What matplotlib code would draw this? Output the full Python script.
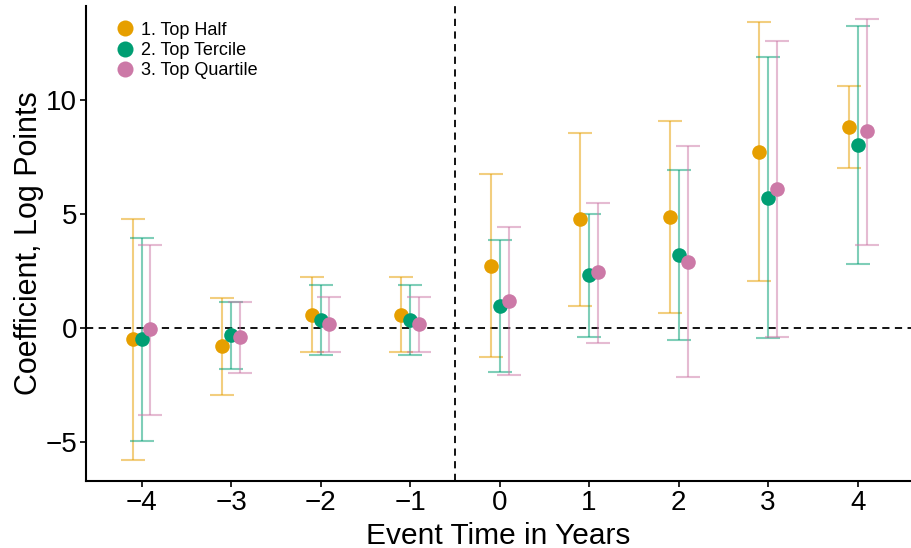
import matplotlib
matplotlib.use("Agg")
import matplotlib.pyplot as plt
import numpy as np

plt.rcParams['font.family'] = ['Liberation Sans', 'DejaVu Sans']

event_time = [-4, -3, -2, -1, 0, 1, 2, 3, 4]
series_names = ["1. Top Half", "2. Top Tercile", "3. Top Quartile"]
colors = ["#E69F00", "#009E73", "#CC79A7"]

half_coef = [-0.50, -0.79, 0.57, 0.57, 2.72, 4.75, 4.85, 7.72, 8.79]
half_lo = [-5.76, -2.92, -1.05, -1.05, -1.29, 0.96, 0.64, 2.07, 6.99]
half_hi = [4.77, 1.30, 2.21, 2.21, 6.74, 8.54, 9.05, 13.38, 10.61]

tercile_coef = [-0.48, -0.31, 0.35, 0.35, 0.94, 2.31, 3.19, 5.71, 8.01]
tercile_lo = [-4.94, -1.78, -1.20, -1.20, -1.93, -0.38, -0.51, -0.43, 2.82]
tercile_hi = [3.92, 1.15, 1.87, 1.87, 3.83, 5.00, 6.90, 11.86, 13.20]

quartile_coef = [-0.05, -0.41, 0.16, 0.16, 1.18, 2.43, 2.88, 6.08, 8.60]
quartile_lo = [-3.79, -1.96, -1.04, -1.04, -2.06, -0.64, -2.16, -0.38, 3.65]
quartile_hi = [3.63, 1.15, 1.36, 1.36, 4.43, 5.48, 7.95, 12.54, 13.52]

coefs = [half_coef, tercile_coef, quartile_coef]
los = [half_lo, tercile_lo, quartile_lo]
his = [half_hi, tercile_hi, quartile_hi]
offsets = [-0.1, 0.0, 0.1]

fig = plt.figure(figsize=(9.12, 5.48), dpi=100)
ax = fig.add_axes([0.0943, 0.1223, 0.905, 0.867])

ax.axhline(0, color='black', linestyle=(0, (4, 3)), linewidth=1.3, zorder=1)
ax.axvline(-0.5, color='black', linestyle=(0, (4, 3)), linewidth=1.3, zorder=1)

x = np.array(event_time, dtype=float)
for name, col, c, lo, hi, off in zip(series_names, colors, coefs, los, his, offsets):
    c = np.array(c); lo = np.array(lo); hi = np.array(hi)
    ax.errorbar(x + off, c, yerr=[c - lo, hi - c], fmt='none', ecolor=col,
                alpha=0.5, elinewidth=1.5, capsize=8.5, capthick=1.5, zorder=2)
for name, col, c, off in zip(series_names, colors, coefs, offsets):
    ax.plot(x + off, c, 'o', color=col, markersize=10.5, markeredgewidth=0,
            label=name, zorder=3)

ax.set_xlim(-4.62, 4.6)
ax.set_ylim(-6.7, 14.1)
ax.set_xticks(event_time)
ax.set_xticklabels([str(v).replace('-', '\u2212') for v in event_time])
ax.set_yticks([-5, 0, 5, 10])
ax.set_yticklabels(['\u22125', '0', '5', '10'])

for s in ['top', 'right']:
    ax.spines[s].set_visible(False)
for s in ['left', 'bottom']:
    ax.spines[s].set_linewidth(1.5)
ax.tick_params(axis='both', labelsize=20, length=4, width=1.2, direction='out', pad=2.5)

ax.set_xlabel("Event Time in Years", fontsize=21.5, labelpad=4)
ax.set_ylabel("Coefficient, Log Points", fontsize=22, labelpad=1)

leg = ax.legend(loc='upper left', frameon=False, fontsize=13, handletextpad=0.35,
                labelspacing=0.18, borderaxespad=0.0, bbox_to_anchor=(0.028, 0.982),
                handlelength=1.0, markerscale=1.1)

fig.savefig("out.png", dpi=100)
